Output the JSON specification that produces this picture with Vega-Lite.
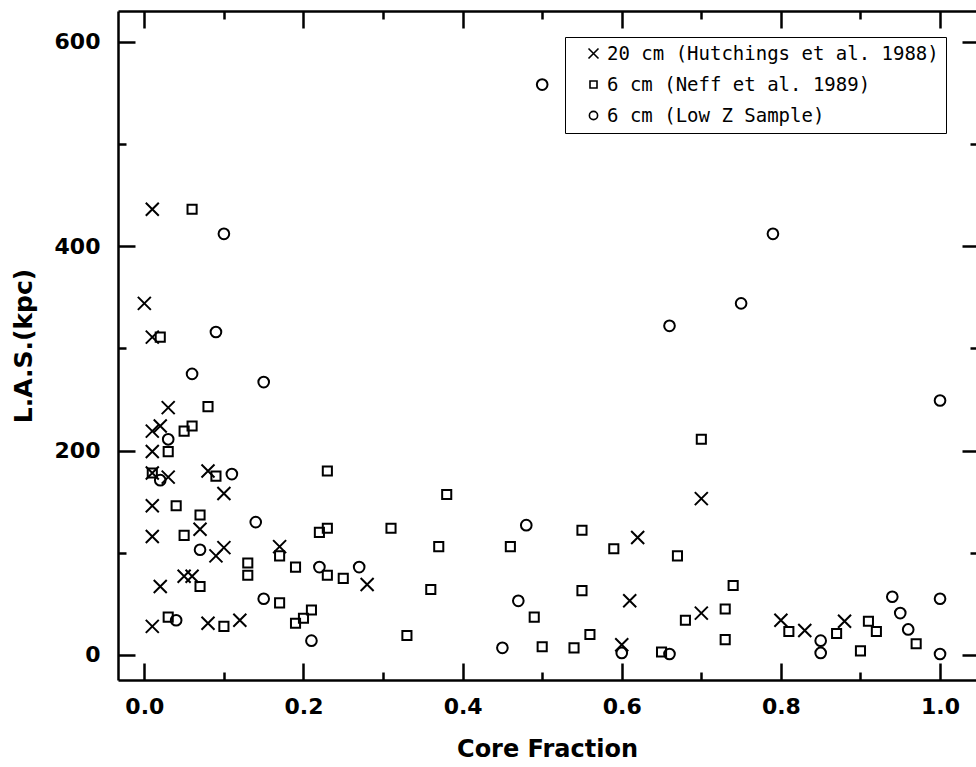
{
  "$schema": "https://vega.github.io/schema/vega-lite/v6.json",
  "usermeta": {"embedOptions": {"actions": false}},
  "width": 858,
  "height": 669,
  "autosize": {"type": "none"},
  "padding": {"left": 118, "top": 11, "right": 0, "bottom": 87},
  "background": "white",
  "config": {
    "view": {"stroke": null},
    "font": "DejaVu Sans",
    "axis": {
      "grid": false,
      "domainColor": "black",
      "domainWidth": 2.5,
      "tickColor": "black",
      "tickWidth": 2.5,
      "labelColor": "black",
      "titleColor": "black",
      "labelFont": "DejaVu Sans",
      "titleFont": "DejaVu Sans",
      "labelFontWeight": "bold",
      "titleFontWeight": "bold",
      "labelFontSize": 22,
      "titleFontSize": 24
    }
  },
  "datasets": {
    "hutchings": [
      {"core": 0.01, "las": 436}, {"core": 0.00, "las": 344}, {"core": 0.01, "las": 311},
      {"core": 0.03, "las": 242}, {"core": 0.02, "las": 224}, {"core": 0.01, "las": 219},
      {"core": 0.01, "las": 199}, {"core": 0.01, "las": 178}, {"core": 0.03, "las": 174},
      {"core": 0.08, "las": 180}, {"core": 0.10, "las": 158}, {"core": 0.01, "las": 146},
      {"core": 0.07, "las": 123}, {"core": 0.01, "las": 116}, {"core": 0.10, "las": 105},
      {"core": 0.09, "las": 97}, {"core": 0.17, "las": 106}, {"core": 0.28, "las": 69},
      {"core": 0.05, "las": 77}, {"core": 0.06, "las": 77}, {"core": 0.02, "las": 67},
      {"core": 0.01, "las": 28}, {"core": 0.08, "las": 31}, {"core": 0.12, "las": 34},
      {"core": 0.70, "las": 153}, {"core": 0.62, "las": 115}, {"core": 0.61, "las": 53},
      {"core": 0.60, "las": 10}, {"core": 0.70, "las": 41}, {"core": 0.80, "las": 34},
      {"core": 0.83, "las": 24}, {"core": 0.88, "las": 33}
    ],
    "neff": [
      {"core": 0.06, "las": 436}, {"core": 0.02, "las": 311}, {"core": 0.08, "las": 243},
      {"core": 0.06, "las": 224}, {"core": 0.05, "las": 219}, {"core": 0.03, "las": 199},
      {"core": 0.01, "las": 178}, {"core": 0.09, "las": 175}, {"core": 0.23, "las": 180},
      {"core": 0.04, "las": 146}, {"core": 0.07, "las": 137}, {"core": 0.05, "las": 117},
      {"core": 0.22, "las": 120}, {"core": 0.23, "las": 124}, {"core": 0.31, "las": 124},
      {"core": 0.17, "las": 97}, {"core": 0.13, "las": 90}, {"core": 0.13, "las": 78},
      {"core": 0.19, "las": 86}, {"core": 0.23, "las": 78}, {"core": 0.25, "las": 75},
      {"core": 0.07, "las": 67}, {"core": 0.17, "las": 51}, {"core": 0.03, "las": 37},
      {"core": 0.10, "las": 28}, {"core": 0.19, "las": 31}, {"core": 0.20, "las": 36},
      {"core": 0.21, "las": 44}, {"core": 0.33, "las": 19}, {"core": 0.70, "las": 211},
      {"core": 0.38, "las": 157}, {"core": 0.55, "las": 122}, {"core": 0.37, "las": 106},
      {"core": 0.46, "las": 106}, {"core": 0.59, "las": 104}, {"core": 0.67, "las": 97},
      {"core": 0.36, "las": 64}, {"core": 0.55, "las": 63}, {"core": 0.49, "las": 37},
      {"core": 0.68, "las": 34}, {"core": 0.56, "las": 20}, {"core": 0.50, "las": 8},
      {"core": 0.54, "las": 7}, {"core": 0.65, "las": 3}, {"core": 0.74, "las": 68},
      {"core": 0.73, "las": 45}, {"core": 0.73, "las": 15}, {"core": 0.97, "las": 11},
      {"core": 0.81, "las": 23}, {"core": 0.87, "las": 21}, {"core": 0.91, "las": 33},
      {"core": 0.92, "las": 23}, {"core": 0.90, "las": 4}
    ],
    "lowz": [
      {"core": 0.10, "las": 412}, {"core": 0.09, "las": 316}, {"core": 0.06, "las": 275},
      {"core": 0.15, "las": 267}, {"core": 0.03, "las": 211}, {"core": 0.02, "las": 171},
      {"core": 0.11, "las": 177}, {"core": 0.14, "las": 130}, {"core": 0.07, "las": 103},
      {"core": 0.22, "las": 86}, {"core": 0.27, "las": 86}, {"core": 0.15, "las": 55},
      {"core": 0.04, "las": 34}, {"core": 0.21, "las": 14}, {"core": 0.50, "las": 558},
      {"core": 0.79, "las": 412}, {"core": 0.75, "las": 344}, {"core": 0.66, "las": 322},
      {"core": 0.48, "las": 127}, {"core": 0.47, "las": 53}, {"core": 0.45, "las": 7},
      {"core": 0.60, "las": 2}, {"core": 0.66, "las": 1}, {"core": 1.00, "las": 249},
      {"core": 0.94, "las": 57}, {"core": 0.95, "las": 41}, {"core": 0.96, "las": 25},
      {"core": 1.00, "las": 55}, {"core": 1.00, "las": 1}, {"core": 0.85, "las": 14},
      {"core": 0.85, "las": 2}
    ]
  },
  "layer": [
    {
      "data": {"name": "hutchings"},
      "mark": {"type": "point", "filled": false, "color": "black", "strokeWidth": 2, "size": 169, "opacity": 1},
      "encoding": {
        "x": {
          "field": "core", "type": "quantitative",
          "scale": {"domain": [-0.0331, 1.0452], "nice": false, "zero": false},
          "axis": {
            "orient": "bottom",
            "values": [0, 0.2, 0.4, 0.6, 0.8, 1.0],
            "format": ".1f",
            "tickSize": -17,
            "labelPadding": 33,
            "labelBaseline": "top",
            "title": "Core Fraction",
            "titlePadding": 20
          }
        },
        "y": {
          "field": "las", "type": "quantitative",
          "scale": {"domain": [-24.46, 630.0], "nice": false, "zero": false},
          "axis": {
            "orient": "left",
            "values": [0, 200, 400, 600],
            "tickSize": -17,
            "labelPadding": 35,
            "title": "L.A.S.(kpc)",
            "titleFontSize": 25,
            "titlePadding": 18
          }
        },
        "shape": {
          "datum": "20 cm (Hutchings et al. 1988)", "type": "nominal",
          "scale": {
            "domain": ["20 cm (Hutchings et al. 1988)", "6 cm (Neff et al. 1989)", "6 cm (Low Z Sample)"],
            "range": [
              "M-1,-1L1,1M-1,1L1,-1",
              "M-0.7,-0.7L0.7,-0.7L0.7,0.7L-0.7,0.7Z",
              "M0.82,0A0.82,0.82,0,1,1,-0.82,0A0.82,0.82,0,1,1,0.82,0Z"
            ]
          },
          "legend": {
            "title": null,
            "orient": "none",
            "legendX": 447,
            "legendY": 26,
            "strokeColor": "black",
            "fillColor": "white",
            "padding": 7,
            "rowPadding": 11,
            "symbolSize": 100,
            "symbolStrokeColor": "black",
            "symbolFillColor": "transparent",
            "symbolStrokeWidth": 1.6,
            "symbolOffset": 12,
            "labelFont": "DejaVu Sans Mono",
            "labelFontSize": 19,
            "labelColor": "black",
            "labelOffset": 4,
            "labelLimit": 0,
            "encode": {"legend": {"update": {"strokeWidth": {"value": 1.5}}}}
          }
        }
      }
    },
    {
      "data": {"name": "neff"},
      "mark": {"type": "point", "filled": false, "color": "black", "strokeWidth": 2, "size": 169, "opacity": 1},
      "encoding": {
        "x": {
          "field": "core", "type": "quantitative",
          "scale": {"domain": [-0.0331, 1.0452], "nice": false, "zero": false},
          "axis": {
            "orient": "top",
            "values": [0, 0.2, 0.4, 0.6, 0.8, 1.0],
            "labels": false,
            "tickSize": -17,
            "title": null
          }
        },
        "y": {
          "field": "las", "type": "quantitative",
          "scale": {"domain": [-24.46, 630.0], "nice": false, "zero": false},
          "axis": {
            "orient": "right",
            "values": [0, 200, 400, 600],
            "labels": false,
            "domain": false,
            "tickSize": -14,
            "title": null
          }
        },
        "shape": {"datum": "6 cm (Neff et al. 1989)", "type": "nominal"}
      }
    },
    {
      "data": {"name": "lowz"},
      "transform": [{"filter": "datum.las < 300"}],
      "mark": {"type": "point", "filled": false, "color": "black", "strokeWidth": 2, "size": 169, "opacity": 1},
      "encoding": {
        "x": {
          "field": "core", "type": "quantitative",
          "scale": {"domain": [-0.0331, 1.0452], "nice": false, "zero": false},
          "axis": {
            "orient": "bottom",
            "values": [0.1, 0.3, 0.5, 0.7, 0.9],
            "labels": false,
            "domain": false,
            "tickSize": -8,
            "title": null
          }
        },
        "y": {
          "field": "las", "type": "quantitative",
          "scale": {"domain": [-24.46, 630.0], "nice": false, "zero": false},
          "axis": {
            "orient": "left",
            "values": [100, 300, 500],
            "labels": false,
            "domain": false,
            "tickSize": -8,
            "title": null
          }
        },
        "shape": {"datum": "6 cm (Low Z Sample)", "type": "nominal"}
      }
    },
    {
      "data": {"name": "lowz"},
      "transform": [{"filter": "datum.las >= 300"}],
      "mark": {"type": "point", "filled": false, "color": "black", "strokeWidth": 2, "size": 169, "opacity": 1},
      "encoding": {
        "x": {
          "field": "core", "type": "quantitative",
          "scale": {"domain": [-0.0331, 1.0452], "nice": false, "zero": false},
          "axis": {
            "orient": "top",
            "values": [0.1, 0.3, 0.5, 0.7, 0.9],
            "labels": false,
            "domain": false,
            "tickSize": -8,
            "title": null
          }
        },
        "y": {
          "field": "las", "type": "quantitative",
          "scale": {"domain": [-24.46, 630.0], "nice": false, "zero": false},
          "axis": {
            "orient": "right",
            "values": [100, 300, 500],
            "labels": false,
            "domain": false,
            "tickSize": -6,
            "title": null
          }
        },
        "shape": {"datum": "6 cm (Low Z Sample)", "type": "nominal"}
      }
    }
  ],
  "resolve": {"axis": {"x": "independent", "y": "independent"}}
}
